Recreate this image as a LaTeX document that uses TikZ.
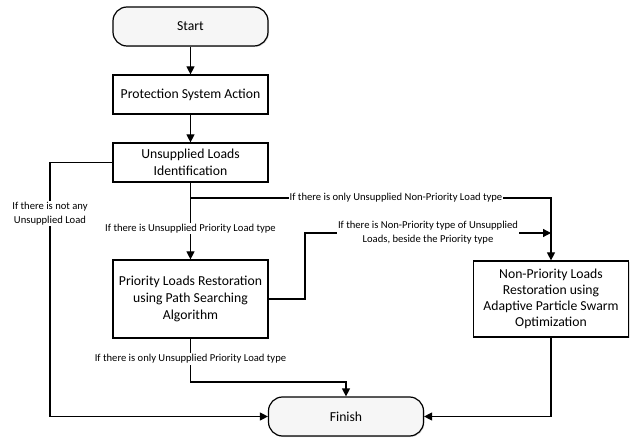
\documentclass[tikz,border=0pt]{standalone}
\usepackage{fontspec}
\setmainfont{Carlito}
\usetikzlibrary{
    arrows.meta,   % Arrow tips
    shadows        % Drop shadows
}
\tikzset{
    box/.style={draw, line width=1.2pt, fill=white, minimum width=155pt, align=center,
        font=\fontsize{13.7}{17}\selectfont,
        drop shadow={opacity=0.25, shadow xshift=1pt, shadow yshift=-1pt}},
    terminal/.style={box, rounded corners=14pt, fill=gray!7, minimum height=39pt},
    cond/.style={fill=white, inner sep=1pt, align=center,
        font=\fontsize{10.6}{14}\selectfont},
    flow/.style={line width=1.2pt, -{Triangle[length=8pt,width=8pt]}}
}

\begin{document}
\begin{tikzpicture}[x=1pt, y=-1pt]
    \useasboundingbox (0,0) rectangle (632,438);

    % blocks
    \node[terminal] (start) at (190.5,26.5) {Start};
    \node[box, minimum height=39pt] (action) at (190.5,94.5) {Protection System Action};
    \node[box, minimum height=39pt] (ident) at (190.5,162.5) {Unsupplied Loads\\Identification};
    \node[box, minimum height=78pt] (prio) at (190.5,299) {Priority Loads Restoration\\using Path Searching\\Algorithm};
    \node[box, minimum height=76pt, font=\fontsize{13.7}{16.2}\selectfont] (nonprio) at (551,299) {Non-Priority Loads\\Restoration using\\Adaptive Particle Swarm\\Optimization};
    \node[terminal] (finish) at (346,416.5) {Finish};

    % bend points
    \coordinate (split) at (190.5,198);
    \coordinate (side) at (305,299);
    \coordinate (join) at (190.5,382);

    % connectors
    \draw[flow] (start) -- (action);
    \draw[flow] (action) -- (ident);
    \draw[flow] (ident) -- node[cond, pos=0.6] {If there is Unsupplied Priority Load type} (prio);
    \draw[flow] (split) -- node[cond, pos=0.57] {If there is only Unsupplied Non-Priority Load type} (split -| nonprio) -- (nonprio);
    \draw[flow] (prio.east |- side) -- (side) -- (side |- 0,233)
        -- node[cond] {If there is Non-Priority type of Unsupplied\\Loads, beside the Priority type} (nonprio.north |- 0,233);
    \draw[flow] (prio) -- node[cond, pos=0.47] {If there is only Unsupplied Priority Load type} (join) -| (finish);
    \draw[flow] (ident.west) -| node[cond, pos=0.6] {If there is not any\\Unsupplied Load} (50,416.5) -- (finish);
    \draw[flow] (nonprio) |- (finish);
\end{tikzpicture}
\end{document}
